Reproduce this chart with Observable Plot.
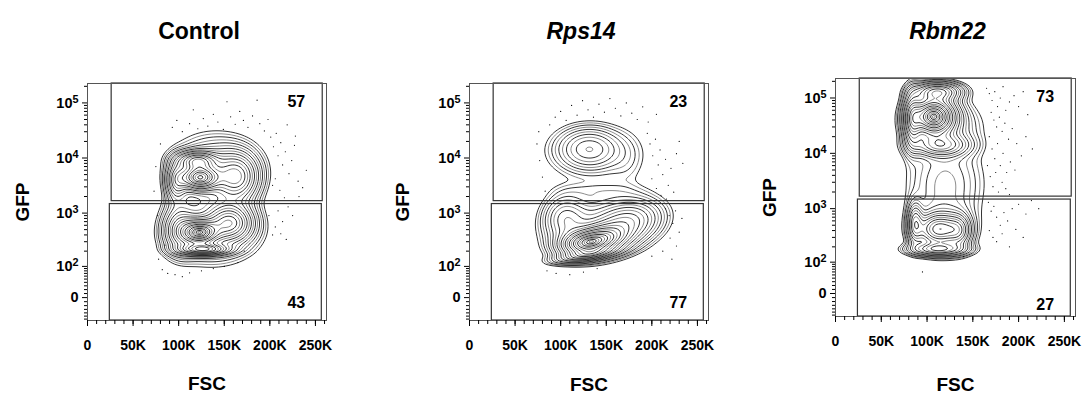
<!DOCTYPE html>
<html><head><meta charset="utf-8">
<script src="https://cdn.jsdelivr.net/npm/d3@7"></script>
<script src="https://cdn.jsdelivr.net/npm/@observablehq/plot@0.6"></script>
<style>
body{margin:0;background:#fff;width:1082px;height:394px;overflow:hidden;position:relative;font-family:"Liberation Sans",Arial,sans-serif;}
.panel{position:absolute;top:0;}
</style></head><body>
<div id="p0" class="panel" style="left:0px"></div>
<div id="p1" class="panel" style="left:381px"></div>
<div id="p2" class="panel" style="left:747px"></div>
<script>
// ---------- data ----------
const titles = ["Control", "Rps14", "Rbm22"];
const titleItalic = [false, true, true];
const upperPct = [57, 23, 73];
const lowerPct = [43, 77, 27];
const fscMajorTicks = [0, 50, 100, 150, 200, 250];           // FSC, thousands
const fscMinorTicks = d3.range(0, 261, 10);
const gfpMajorTicks = [0, 100, 1000, 10000, 100000];
const gfpMajorLabels = ["0", "10^2", "10^3", "10^4", "10^5"];
const gfpMinorTicks = [-60, -50, -40, -30, -20, -10, 10, 20, 30, 40, 50, 60, 70, 80, 90,
  200, 300, 400, 500, 600, 700, 800, 900, 2000, 3000, 4000, 5000, 6000, 7000, 8000, 9000,
  20000, 30000, 40000, 50000, 60000, 70000, 80000, 90000, 200000];
const fscRange = [0, 262.144];
const gfpRange = [-65, 225000];
// gates: [fscLeft, fscRight, gfpThreshold]
const upperGate = [26.5, 258, 1650];
const lowerGate = [24.5, 257, 1460];
// populations: [FSC center (K), GFP center, FSC sd (K), GFP sd (decades), weight, correlation]
const controlPops = [
  [123, 4400, 13, 0.14, 0.9, 0],
  [120, 9000, 13, 0.1, 0.5, 0],
  [98, 3800, 7, 0.22, 0.3, 0],
  [163, 4500, 14, 0.25, 0.45, 0],
  [140, 7000, 27, 0.33, 0.15, 0],
  [123, 442, 12, 0.14, 0.9, 0],
  [156, 670, 15, 0.2, 0.55, 0],
  [127, 215, 16, 0.06, 0.6, 0],
  [102, 500, 11, 0.25, 0.3, 0],
  [136, 400, 28, 0.3, 0.15, 0],
  [136, 1500, 25, 0.2, 0.07, 0]
];
const rps14Pops = [
  [131, 14600, 20, 0.22, 0.28, 0],
  [138, 12000, 34, 0.33, 0.06, 0],
  [172, 9000, 12, 0.3, 0.03, 0],
  [140, 2600, 30, 0.1, 0.035, 0],
  [125, 271, 16, 0.14, 0.9, 0.15],
  [146, 340, 18, 0.16, 0.8, 0.2],
  [130, 170, 20, 0.08, 0.45, 0.6],
  [175, 700, 20, 0.22, 0.35, 0.2],
  [145, 600, 33, 0.33, 0.2, 0.2],
  [105, 800, 14, 0.25, 0.25, 0]
];
const rbm22Pops = [
  [107, 46500, 14, 0.2, 1.0, 0],
  [84, 40000, 6, 0.3, 0.4, 0],
  [112, 130000, 15, 0.1, 0.4, 0],
  [115, 14000, 18, 0.12, 0.3, 0],
  [118, 30000, 24, 0.3, 0.1, 0],
  [120, 2900, 24, 0.45, 0.1, 0],
  [113, 420, 14, 0.17, 0.5, 0],
  [87, 550, 5, 0.22, 0.3, 0],
  [112, 180, 18, 0.07, 0.35, 0],
  [135, 400, 8, 0.18, 0.25, 0],
  [118, 450, 20, 0.3, 0.1, 0]
];
// sparse outlying events: [FSC (K), GFP]
const controlEvents = [[93,36000],[98,48000],[104,30000],[112,42000],[116,75000],[121,34000],[127,52000],[132,38000],[138,62000],[143,45000],[149,33000],[153,105000],[157,56000],[162,41000],[167,70000],[171,48000],[176,36000],[181,58000],[186,112000],[189,42000],[194,31000],[198,50000],
  [201,24000],[204,16000],[207,28000],[209,11000],[212,19000],[214,7500],[217,13000],[219,40000],[221,5200],[224,9000],[227,17000],[231,3800],[236,2900],[206,4200],[211,2600],[216,1900],[209,1100],[214,700],[220,1300],[225,900],[212,420],[206,560],[218,330],[232,2000],[240,6000],[228,25000],[203,3200],[199,900],[203,400],
  [82,85],[88,70],[96,65],[104,58],[112,72],[125,80],[138,90],[150,100],[165,120],[78,140],[85,260],[172,200],
  [73,2500],[75,7000],[77,900],[80,18000]];
const rps14Events = [[88,40000],[94,55000],[100,70000],[106,48000],[112,90000],[118,60000],[124,110000],[130,75000],[136,55000],[142,95000],[148,68000],[154,120000],[160,80000],[166,58000],[172,100000],[178,65000],[184,50000],[190,85000],[196,45000],[205,62000],
  [195,28000],[198,18000],[201,11000],[204,22000],[207,7500],[209,14000],[212,5000],[215,9500],[218,3200],[221,6500],[224,2400],[227,12000],[200,4200],[205,2800],[210,2100],[216,1800],[230,20000],[234,8000],
  [74,18000],[77,9000],[80,4500],[83,2500],[76,30000],
  [215,1200],[219,900],[223,650],[226,1100],[230,450],[220,350],[227,250],[233,800],[212,200],[200,160],[222,140],
  [85,80],[95,70],[110,65],[125,75],[140,90]];
const rbm22Events = [[165,150000],[168,120000],[171,90000],[174,130000],[177,70000],[180,100000],[183,160000],[186,60000],[190,85000],[195,110000],[200,70000],[205,130000],[210,50000],[170,55000],[173,40000],[176,30000],[179,45000],[182,25000],[185,35000],[189,18000],[193,28000],[198,15000],[208,20000],[215,12000],
  [168,20000],[171,12000],[174,8000],[177,15000],[180,6000],[183,10000],[187,4500],[191,7000],[196,5000],[203,9000],[166,6000],[169,3800],[172,2500],[175,4500],[178,2000],[182,3000],[186,2300],[190,1800],
  [167,1300],[170,900],[173,1100],[176,700],[180,500],[184,850],[188,600],[193,1000],[200,1200],[208,800],[214,1400],[222,1000],[168,400],[172,300],[176,250],[182,350],[190,200],[197,420],[205,300],[95,60],[140,130]];
const contourCount = 24;
const contourReach = 2.8;   // outermost contour, in standard deviations of the peak

// ---------- rendering ----------
const W = 58.6;
const T = v => Math.asinh(v / W) / Math.LN10;   // biexponential-like display transform
const font = '"Liberation Sans", Arial, Helvetica, sans-serif';

function densityFn(pops) {
  const comps = pops.map(([cx, g, sx, st, w, r]) => ({cx, ct: T(g), sx, st, w, r}));
  return (x, t) => {
    let s = 0;
    for (const c of comps) {
      const dx = (x - c.cx) / c.sx, dt = (t - c.ct) / c.st;
      const q = (dx * dx - 2 * c.r * dx * dt + dt * dt) / (1 - c.r * c.r);
      s += c.w * Math.exp(-0.5 * q);
    }
    return s;
  };
}

const layouts = [
  {id: "p0", width: 360, ml: 87, mr: 34, mt: 83, mb: 74, tdy: -52, gdx: -65, fdy: 63},
  {id: "p1", width: 360, ml: 88, mr: 33, mt: 83, mb: 74, tdy: -52, gdx: -67, fdy: 64},
  {id: "p2", width: 335, ml: 88, mr: 7, mt: 78, mb: 78, tdy: -47, gdx: -66, fdy: 68}
];
const allPops = [controlPops, rps14Pops, rbm22Pops];
const allEvents = [controlEvents, rps14Events, rbm22Events];

const y1 = T(gfpRange[0]), y2 = T(gfpRange[1]);
const majorT = gfpMajorTicks.map(T);

layouts.forEach((L, i) => {
  const f = densityFn(allPops[i]);
  let mx = 0;
  for (let x = 0; x <= 262; x += 1) for (let t = y1; t <= y2; t += 0.01) mx = Math.max(mx, f(x, t));
  const thr = d3.range(1, contourCount + 1).map(k => mx * Math.exp(-0.5 * (contourReach * k / contourCount) ** 2)).reverse();
  const thrA = thr.filter((_, k) => k % 2 === 0);
  const thrB = thr.filter((_, k) => k % 2 === 1);
  const gates = [
    {x1: upperGate[0], x2: upperGate[1], y1: T(upperGate[2]), y2: y2},
    {x1: lowerGate[0], x2: lowerGate[1], y1: y1, y2: T(lowerGate[2])}
  ];
  const cOpts = {value: f, x1: fscRange[0], x2: fscRange[1], y1, y2, fill: "none", strokeWidth: 0.85, pixelSize: 1};
  const plot = Plot.plot({
    width: L.width, height: 394,
    marginLeft: L.ml, marginRight: L.mr, marginTop: L.mt, marginBottom: L.mb,
    x: {domain: fscRange},
    y: {domain: [y1, y2]},
    style: {fontFamily: font, fontWeight: "bold", fontSize: "14px", color: "#000", background: "transparent", overflow: "visible"},
    marks: [
      Plot.contour({...cOpts, thresholds: thrB, stroke: "#777"}),
      Plot.contour({...cOpts, thresholds: thrA, stroke: "#111"}),
      Plot.dot(allEvents[i], {x: d => d[0], y: d => T(d[1]), r: 0.6, fill: "#000", stroke: null}),
      Plot.rect(gates, {x1: "x1", x2: "x2", y1: "y1", y2: "y2", fill: "none", stroke: "#333", strokeWidth: 1.2}),
      Plot.frame({stroke: "#555"}),
      Plot.axisX({ticks: fscMinorTicks, tickSize: 4, tickFormat: () => "", label: null}),
      Plot.axisX({ticks: fscMajorTicks, tickSize: 6, tickPadding: 14, tickFormat: d => d === 0 ? "0" : d + "K", label: null, fontSize: 14, fontWeight: "bold"}),
      Plot.axisY({ticks: gfpMinorTicks.map(T), tickSize: 3, tickFormat: () => "", label: null}),
      Plot.axisY({ticks: majorT, tickSize: 5, tickPadding: 4, label: null, fontSize: 14.5, fontWeight: "bold",
        tickFormat: d => gfpMajorLabels[majorT.findIndex(v => Math.abs(v - d) < 1e-9)]}),
      Plot.text([titles[i]], {frameAnchor: "top", lineAnchor: "middle", dy: L.tdy, dx: -8, fontSize: 23, fontWeight: "bold", fontStyle: titleItalic[i] ? "italic" : "normal"}),
      Plot.text(["GFP"], {frameAnchor: "left", textAnchor: "middle", lineAnchor: "middle", dx: L.gdx, rotate: -90, fontSize: 19, fontWeight: "bold"}),
      Plot.text(["FSC"], {frameAnchor: "bottom", lineAnchor: "middle", dy: L.fdy, fontSize: 19, fontWeight: "bold"}),
      Plot.text([upperPct[i]], {x: () => 229, y: () => 3.55, text: d => String(d), fontSize: 16, fontWeight: "bold"}),
      Plot.text([lowerPct[i]], {x: () => 229, y: () => (i === 2 ? -0.2 : -0.09), text: d => String(d), fontSize: 16, fontWeight: "bold"})
    ]
  });
  // superscript exponents
  plot.querySelectorAll("text").forEach(t => {
    const s = t.textContent;
    if (/^10\^\d$/.test(s)) {
      t.textContent = "10";
      const ts = document.createElementNS("http://www.w3.org/2000/svg", "tspan");
      ts.setAttribute("dy", "-0.45em");
      ts.setAttribute("font-size", "0.75em");
      ts.textContent = s.slice(3);
      t.appendChild(ts);
    }
  });
  document.getElementById(L.id).appendChild(plot);
});
</script>
</body></html>
